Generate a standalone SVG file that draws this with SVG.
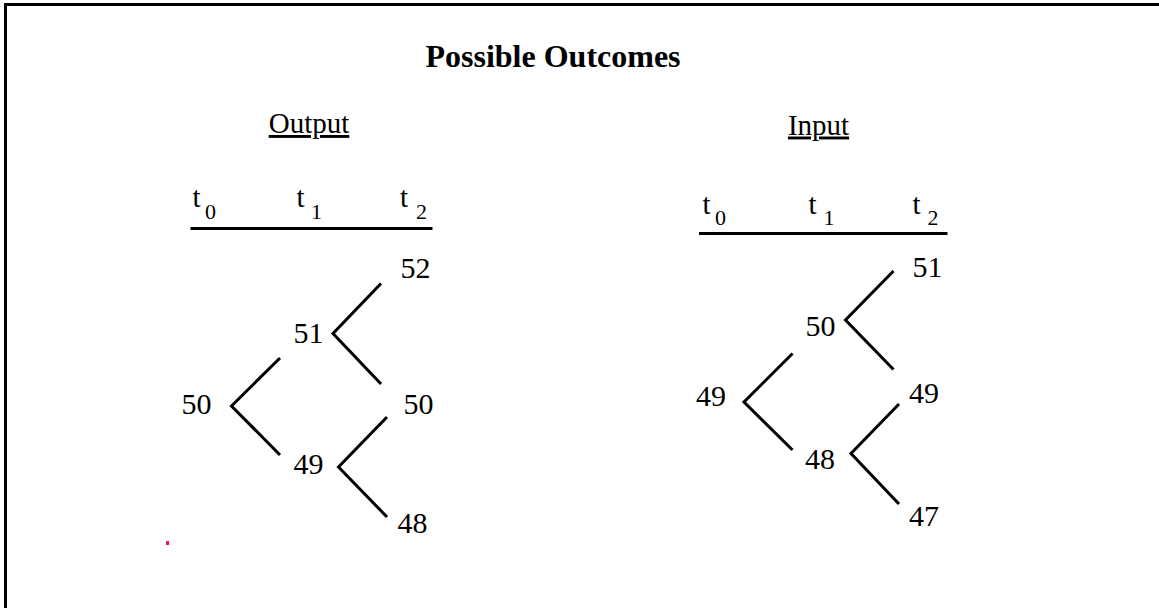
<svg xmlns="http://www.w3.org/2000/svg" width="1159" height="608" viewBox="0 0 1159 608">
  <style>
    .t { font-family: "Liberation Serif", "Times New Roman", serif; fill: #000; }
    .title { font-size: 32px; font-weight: bold; }
    .head { font-size: 29px; text-decoration: underline; }
    .num { font-size: 30px; }
    .tt { font-size: 29px; }
    .sub { font-size: 22px; }
    .edge { stroke: #000; stroke-width: 3; fill: none; stroke-linecap: butt; stroke-linejoin: miter; }
    .rule { stroke: #000; stroke-width: 3; }
  </style>
  <rect width="1159" height="608" fill="#fff"/>
  <!-- frame: only top and left edges fall inside the canvas -->
  <rect x="5.5" y="4.5" width="1200" height="700" fill="none" stroke="#000" stroke-width="3"/>

  <text class="t title" x="553" y="67" text-anchor="middle">Possible Outcomes</text>

  <!-- Output tree -->
  <g id="output-tree">
    <text class="t head" x="309" y="133" text-anchor="middle">Output</text>
    <g id="output-axis">
      <text class="t tt" x="192.5" y="207">t</text><text class="t sub" x="205" y="218.5">0</text>
      <text class="t tt" x="296.5" y="207">t</text><text class="t sub" x="311" y="218.5">1</text>
      <text class="t tt" x="400" y="207">t</text><text class="t sub" x="416" y="218.5">2</text>
      <line class="rule" x1="190.5" y1="228.5" x2="432.5" y2="228.5"/>
    </g>
    <g id="o-50a"><text class="t num" x="181.5" y="414">50</text></g>
    <g id="o-51"><text class="t num" x="293.5" y="343">51</text></g>
    <g id="o-49"><text class="t num" x="293.5" y="474">49</text></g>
    <g id="o-52"><text class="t num" x="400.5" y="278">52</text></g>
    <g id="o-50b"><text class="t num" x="403.5" y="414">50</text></g>
    <g id="o-48"><text class="t num" x="397.5" y="533">48</text></g>
    <g id="output-connectors">
      <polyline class="edge" points="280,358 231.5,406 280,455"/>
      <polyline class="edge" points="381,283.5 333,333.5 381,384"/>
      <polyline class="edge" points="387,417 338.5,467 387,517"/>
    </g>
  </g>

  <!-- Input tree -->
  <g id="input-tree">
    <text class="t head" x="818.5" y="134.5" text-anchor="middle">Input</text>
    <g id="input-axis">
      <text class="t tt" x="702.5" y="213.5">t</text><text class="t sub" x="715" y="225">0</text>
      <text class="t tt" x="808.5" y="213.5">t</text><text class="t sub" x="823.5" y="225">1</text>
      <text class="t tt" x="912.5" y="213.5">t</text><text class="t sub" x="927.5" y="225">2</text>
      <line class="rule" x1="699" y1="233.5" x2="947.5" y2="233.5"/>
    </g>
    <g id="i-49a"><text class="t num" x="696" y="406">49</text></g>
    <g id="i-50a"><text class="t num" x="805.5" y="336">50</text></g>
    <g id="i-48"><text class="t num" x="805" y="469">48</text></g>
    <g id="i-51"><text class="t num" x="912.5" y="277">51</text></g>
    <g id="i-49b"><text class="t num" x="909" y="402.5">49</text></g>
    <g id="i-47"><text class="t num" x="909" y="526">47</text></g>
    <g id="input-connectors">
      <polyline class="edge" points="792.5,353.5 744,402 792.5,450"/>
      <polyline class="edge" points="893.5,271 845.5,320 893.5,369.5"/>
      <polyline class="edge" points="899,404 851,453.5 899,504"/>
    </g>
  </g>

  <rect x="166" y="541" width="3" height="4" fill="#ff1048"/>
</svg>
